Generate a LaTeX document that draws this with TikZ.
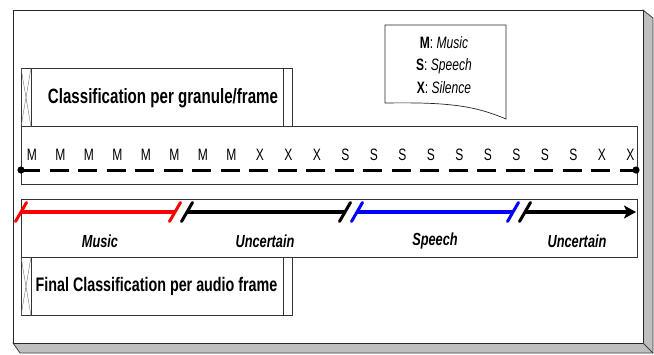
\documentclass[tikz,border=0pt]{standalone}
\usepackage{fontspec}
\setmainfont[FakeStretch=0.73]{Liberation Sans}
\usetikzlibrary{arrows.meta,calc}

\begin{document}
\begin{tikzpicture}[x=1pt,y=-1pt,
  panel/.style={draw=black!80, line width=0.8pt, fill=white, anchor=north west, inner sep=0pt},
  titletext/.style={font=\fontsize{#1}{22}\selectfont\bfseries, inner sep=0pt},
  letter/.style={font=\fontsize{16.5}{18}\selectfont, inner sep=0pt},
  seglabel/.style={font=\fontsize{17.5}{18}\selectfont\bfseries\itshape, inner sep=0pt},
  seg/.style={line width=3.5pt},
  slashmark/.style={line width=3pt, line cap=round},
  strip/.style={draw=black!80, line width=0.6pt},
  crossline/.style={draw=black!55, line width=0.4pt},
]
\useasboundingbox (0,0) rectangle (654,354);

% raised page: shadow and sheet
\filldraw[fill=black!25, draw=black!75, line width=0.8pt]
  (643,10) -- (653,18) -- (653,353) -- (20,353) -- (13,343) -- cycle;
\filldraw[fill=white, draw=black!85, line width=0.9pt] (13,10) rectangle (643,343);
\draw[black!75, line width=0.8pt] (643,343) -- (653,353);

% legend (document shape)
\filldraw[fill=white, draw=black!85, line width=0.7pt]
  (385,25) -- (506,25) -- (506,119)
  .. controls (475,106) and (450,102) .. (385,103) -- cycle;
\node[align=center, font=\fontsize{16.5}{22.5}\selectfont, inner sep=0pt] (legend) at (444,65)
  {\textbf{M}: \textit{Music}\\ \textbf{S}: \textit{Speech}\\ \textbf{X}: \textit{Silence}};

% panels
\node[panel, minimum width=616pt, minimum height=58pt] (band) at (21,126) {};
\node[panel, minimum width=271pt, minimum height=58pt] (cls) at (21,68) {};
\node[panel, minimum width=616pt, minimum height=58pt] (tline) at (21,199) {};
\node[panel, minimum width=271pt, minimum height=58pt] (fin) at (21,257) {};

% side strips of the two title panels
\foreach \p in {cls,fin} {
  \draw[crossline] (\p.north west) -- ($(\p.south west)+(10,0)$);
  \draw[crossline] (\p.south west) -- ($(\p.north west)+(10,0)$);
  \draw[strip] ($(\p.north west)+(10,0)$) -- ($(\p.south west)+(10,0)$);
  \draw[strip] ($(\p.north east)+(-10,0)$) -- ($(\p.south east)+(-10,0)$);
}
\node[titletext=20.7] (clstitle) at (163,98) {Classification per granule/frame};
\node[titletext=19.6] (fintitle) at (156.5,286) {Final Classification per audio frame};

% per-granule decisions
\foreach \c [count=\i] in {M,M,M,M,M,M,M,M,X,X,X,S,S,S,S,S,S,S,S,S,X,X}
  \node[letter] (l\i) at ({32+(\i-1)*28.5},155) {\c};

% frame axis
\coordinate (d0) at (21,170);
\coordinate (d1) at (636,170);
\draw[line width=3pt, dash pattern=on 19pt off 9.5pt] (d0) -- (d1);
\fill (d0) circle (3.6pt);
\fill (d1) circle (3.6pt);

% final segmentation
\coordinate (r0) at (21,212);  \coordinate (r1) at (175,212);
\coordinate (k0) at (187,212); \coordinate (k1) at (345,212);
\coordinate (b0) at (357,212); \coordinate (b1) at (513,212);
\coordinate (k2) at (525,212); \coordinate (k3) at (636,212);

\draw[seg, red] (r0) -- (r1);
\draw[seg, black] (k0) -- (k1);
\draw[seg, blue] (b0) -- (b1);
\draw[seg, black, -{Stealth[length=12pt,width=13pt,inset=3pt]}] (k2) -- (k3);

\foreach \pt/\col in {r0/red, r1/red, k0/black, k1/black, b0/blue, b1/blue, k2/black}
  \draw[slashmark, \col] ($(\pt)+(-5.5,9.5)$) -- ($(\pt)+(5.5,-9.5)$);

\node[seglabel] (lmusic) at (100,241) {Music};
\node[seglabel] (lunc1) at (265,241) {Uncertain};
\node[seglabel] (lspeech) at (435,241) {Speech};
\node[seglabel] (lunc2) at (577,241) {Uncertain};
\end{tikzpicture}
\end{document}
